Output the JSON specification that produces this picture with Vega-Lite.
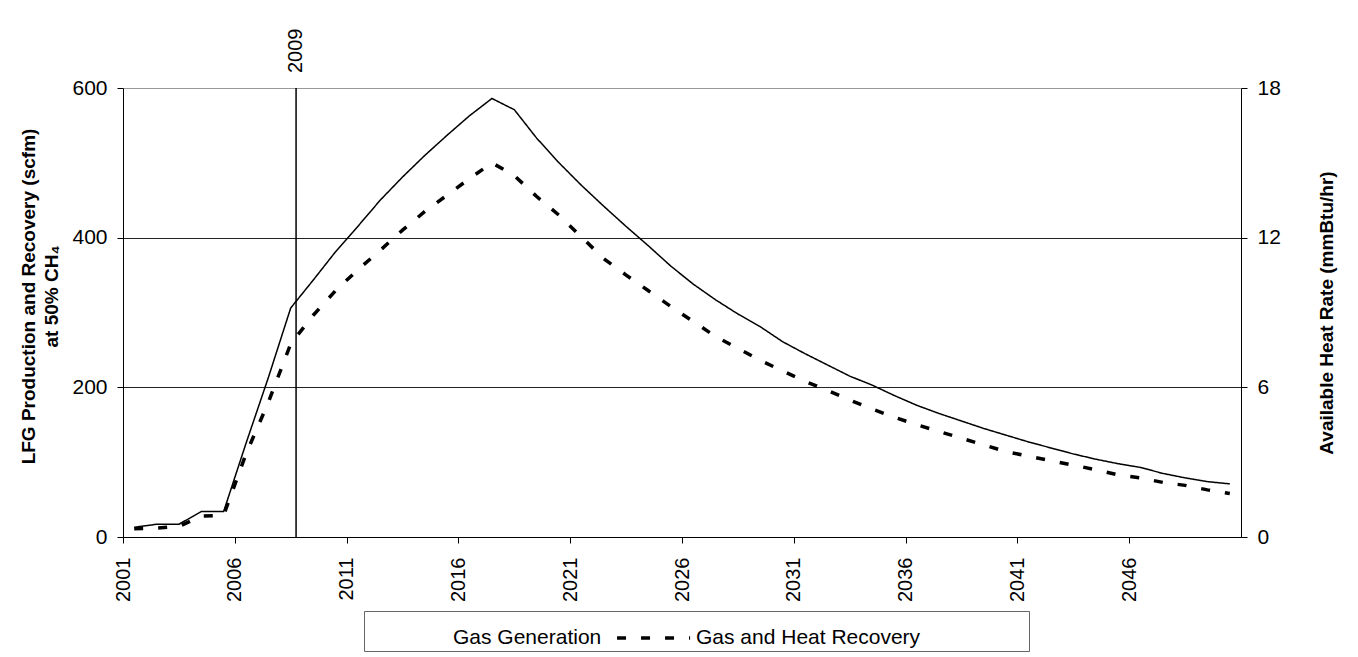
{
  "$schema": "https://vega.github.io/schema/vega-lite/v6.json",
  "width": 1118,
  "height": 449,
  "autosize": {"type": "none"},
  "padding": {"left": 123, "top": 88, "right": 117, "bottom": 120},
  "background": "white",
  "config": {
    "font": "Liberation Sans",
    "view": {"stroke": null},
    "axis": {
      "labelFont": "Liberation Sans",
      "labelFontSize": 21,
      "labelColor": "black",
      "titleFont": "Liberation Sans",
      "titleFontSize": 19,
      "titleFontWeight": "bold",
      "titleColor": "black",
      "domainColor": "black",
      "domainWidth": 1,
      "tickColor": "black",
      "tickSize": 6,
      "labelPadding": 10
    }
  },
  "datasets": {
    "series": [
      {"year": 2001, "series": "Gas Generation", "value": 13},
      {"year": 2002, "series": "Gas Generation", "value": 17},
      {"year": 2003, "series": "Gas Generation", "value": 17},
      {"year": 2004, "series": "Gas Generation", "value": 34},
      {"year": 2005, "series": "Gas Generation", "value": 34},
      {"year": 2006, "series": "Gas Generation", "value": 125},
      {"year": 2007, "series": "Gas Generation", "value": 213},
      {"year": 2008, "series": "Gas Generation", "value": 306},
      {"year": 2009, "series": "Gas Generation", "value": 343},
      {"year": 2010, "series": "Gas Generation", "value": 381},
      {"year": 2011, "series": "Gas Generation", "value": 415},
      {"year": 2012, "series": "Gas Generation", "value": 450},
      {"year": 2013, "series": "Gas Generation", "value": 481},
      {"year": 2014, "series": "Gas Generation", "value": 510},
      {"year": 2015, "series": "Gas Generation", "value": 537},
      {"year": 2016, "series": "Gas Generation", "value": 563},
      {"year": 2017, "series": "Gas Generation", "value": 586},
      {"year": 2018, "series": "Gas Generation", "value": 571},
      {"year": 2019, "series": "Gas Generation", "value": 533},
      {"year": 2020, "series": "Gas Generation", "value": 500},
      {"year": 2021, "series": "Gas Generation", "value": 470},
      {"year": 2022, "series": "Gas Generation", "value": 442},
      {"year": 2023, "series": "Gas Generation", "value": 415},
      {"year": 2024, "series": "Gas Generation", "value": 389},
      {"year": 2025, "series": "Gas Generation", "value": 362},
      {"year": 2026, "series": "Gas Generation", "value": 338},
      {"year": 2027, "series": "Gas Generation", "value": 317},
      {"year": 2028, "series": "Gas Generation", "value": 298},
      {"year": 2029, "series": "Gas Generation", "value": 281},
      {"year": 2030, "series": "Gas Generation", "value": 261},
      {"year": 2031, "series": "Gas Generation", "value": 245},
      {"year": 2032, "series": "Gas Generation", "value": 230},
      {"year": 2033, "series": "Gas Generation", "value": 215},
      {"year": 2034, "series": "Gas Generation", "value": 203},
      {"year": 2035, "series": "Gas Generation", "value": 189},
      {"year": 2036, "series": "Gas Generation", "value": 176},
      {"year": 2037, "series": "Gas Generation", "value": 165},
      {"year": 2038, "series": "Gas Generation", "value": 155},
      {"year": 2039, "series": "Gas Generation", "value": 145},
      {"year": 2040, "series": "Gas Generation", "value": 136},
      {"year": 2041, "series": "Gas Generation", "value": 127},
      {"year": 2042, "series": "Gas Generation", "value": 119},
      {"year": 2043, "series": "Gas Generation", "value": 111},
      {"year": 2044, "series": "Gas Generation", "value": 104},
      {"year": 2045, "series": "Gas Generation", "value": 98},
      {"year": 2046, "series": "Gas Generation", "value": 93},
      {"year": 2047, "series": "Gas Generation", "value": 85},
      {"year": 2048, "series": "Gas Generation", "value": 79},
      {"year": 2049, "series": "Gas Generation", "value": 74},
      {"year": 2050, "series": "Gas Generation", "value": 71},
      {"year": 2001, "series": "Gas and Heat Recovery", "value": 11},
      {"year": 2002, "series": "Gas and Heat Recovery", "value": 12},
      {"year": 2003, "series": "Gas and Heat Recovery", "value": 14},
      {"year": 2004, "series": "Gas and Heat Recovery", "value": 28},
      {"year": 2005, "series": "Gas and Heat Recovery", "value": 29},
      {"year": 2006, "series": "Gas and Heat Recovery", "value": 111},
      {"year": 2007, "series": "Gas and Heat Recovery", "value": 180},
      {"year": 2008, "series": "Gas and Heat Recovery", "value": 258},
      {"year": 2009, "series": "Gas and Heat Recovery", "value": 296},
      {"year": 2010, "series": "Gas and Heat Recovery", "value": 329},
      {"year": 2011, "series": "Gas and Heat Recovery", "value": 357},
      {"year": 2012, "series": "Gas and Heat Recovery", "value": 383},
      {"year": 2013, "series": "Gas and Heat Recovery", "value": 410},
      {"year": 2014, "series": "Gas and Heat Recovery", "value": 435},
      {"year": 2015, "series": "Gas and Heat Recovery", "value": 457},
      {"year": 2016, "series": "Gas and Heat Recovery", "value": 479},
      {"year": 2017, "series": "Gas and Heat Recovery", "value": 500},
      {"year": 2018, "series": "Gas and Heat Recovery", "value": 483},
      {"year": 2019, "series": "Gas and Heat Recovery", "value": 455},
      {"year": 2020, "series": "Gas and Heat Recovery", "value": 430},
      {"year": 2021, "series": "Gas and Heat Recovery", "value": 401},
      {"year": 2022, "series": "Gas and Heat Recovery", "value": 372},
      {"year": 2023, "series": "Gas and Heat Recovery", "value": 350},
      {"year": 2024, "series": "Gas and Heat Recovery", "value": 329},
      {"year": 2025, "series": "Gas and Heat Recovery", "value": 308},
      {"year": 2026, "series": "Gas and Heat Recovery", "value": 288},
      {"year": 2027, "series": "Gas and Heat Recovery", "value": 268},
      {"year": 2028, "series": "Gas and Heat Recovery", "value": 252},
      {"year": 2029, "series": "Gas and Heat Recovery", "value": 236},
      {"year": 2030, "series": "Gas and Heat Recovery", "value": 222},
      {"year": 2031, "series": "Gas and Heat Recovery", "value": 208},
      {"year": 2032, "series": "Gas and Heat Recovery", "value": 196},
      {"year": 2033, "series": "Gas and Heat Recovery", "value": 183},
      {"year": 2034, "series": "Gas and Heat Recovery", "value": 171},
      {"year": 2035, "series": "Gas and Heat Recovery", "value": 160},
      {"year": 2036, "series": "Gas and Heat Recovery", "value": 150},
      {"year": 2037, "series": "Gas and Heat Recovery", "value": 141},
      {"year": 2038, "series": "Gas and Heat Recovery", "value": 132},
      {"year": 2039, "series": "Gas and Heat Recovery", "value": 123},
      {"year": 2040, "series": "Gas and Heat Recovery", "value": 114},
      {"year": 2041, "series": "Gas and Heat Recovery", "value": 108},
      {"year": 2042, "series": "Gas and Heat Recovery", "value": 102},
      {"year": 2043, "series": "Gas and Heat Recovery", "value": 96},
      {"year": 2044, "series": "Gas and Heat Recovery", "value": 90},
      {"year": 2045, "series": "Gas and Heat Recovery", "value": 83},
      {"year": 2046, "series": "Gas and Heat Recovery", "value": 79},
      {"year": 2047, "series": "Gas and Heat Recovery", "value": 73},
      {"year": 2048, "series": "Gas and Heat Recovery", "value": 69},
      {"year": 2049, "series": "Gas and Heat Recovery", "value": 63},
      {"year": 2050, "series": "Gas and Heat Recovery", "value": 58}
    ],
    "marker": [{"year": 2008.24, "label": "2009", "value": 600}],
    "right": [{"heat": 0}]
  },
  "layer": [
    {
      "data": {"name": "series"},
      "mark": {"type": "line", "color": "black", "strokeCap": "butt"},
      "encoding": {
        "x": {
          "field": "year",
          "type": "quantitative",
          "scale": {"domain": [2000.5, 2050.5], "nice": false, "zero": false},
          "axis": {
            "values": [2000.5, 2005.5, 2010.5, 2015.5, 2020.5, 2025.5, 2030.5, 2035.5, 2040.5, 2045.5],
            "labelExpr": "format(datum.value + 0.5, 'd')",
            "labelAngle": -90,
            "labelFontSize": 20,
            "labelPadding": 14,
            "grid": false,
            "title": null
          }
        },
        "y": {
          "field": "value",
          "type": "quantitative",
          "scale": {"domain": [0, 600], "nice": false},
          "axis": {
            "values": [0, 200, 400, 600],
            "grid": true,
            "gridColor": {"condition": {"test": "datum.value == 600", "value": "#999999"}, "value": "#222222"},
            "gridWidth": 1,
            "title": ["LFG Production and Recovery (scfm)", "at 50% CH₄"],
            "titleLineHeight": 23,
            "titlePadding": 10,
            "titleY": 208
          }
        },
        "strokeDash": {
          "field": "series",
          "type": "nominal",
          "scale": {"domain": ["Gas Generation", "Gas and Heat Recovery"], "range": [[1, 0], [9, 15]]},
          "legend": {
            "orient": "none",
            "legendX": 241,
            "legendY": 523,
            "direction": "horizontal",
            "title": null,
            "strokeColor": "#666666",
            "fillColor": "white",
            "padding": 3,
            "symbolType": "M-0.68,0H2.64",
            "symbolSize": 1936,
            "symbolStrokeColor": "black",
            "symbolStrokeWidth": 3.5,
            "labelOffset": 40,
            "columnPadding": 6,
            "labelFont": "Liberation Sans",
            "labelFontSize": 21,
            "labelColor": "black",
            "labelLimit": 600,
            "labelExpr": "datum.label == 'Gas and Heat Recovery' ? datum.label + '\u2800\u2800\u2800\u2800\u2800\u2800\u2800' : datum.label",
            "encode": {
              "symbols": {
                "update": {
                  "opacity": {"signal": "datum.value == 'Gas Generation' ? 0 : 1"},
                  "strokeDash": {"value": [12, 12]},
                  "fill": {"value": "transparent"}
                }
              }
            }
          }
        },
        "strokeWidth": {
          "field": "series",
          "type": "nominal",
          "scale": {"domain": ["Gas Generation", "Gas and Heat Recovery"], "range": [1.5, 3.5]},
          "legend": null
        }
      }
    },
    {
      "data": {"name": "marker"},
      "mark": {"type": "rule", "color": "black", "strokeWidth": 1.5},
      "encoding": {
        "x": {"field": "year", "type": "quantitative"}
      }
    },
    {
      "data": {"name": "marker"},
      "mark": {"type": "text", "angle": 270, "align": "left", "baseline": "middle", "dx": 15, "fontSize": 20, "font": "Liberation Sans", "color": "black"},
      "encoding": {
        "x": {"field": "year", "type": "quantitative"},
        "y": {"field": "value", "type": "quantitative", "scale": {"domain": [0, 600], "nice": false}, "axis": null},
        "text": {"field": "label"}
      }
    },
    {
      "data": {"name": "right"},
      "mark": {"type": "point", "opacity": 0},
      "encoding": {
        "y": {
          "field": "heat",
          "type": "quantitative",
          "scale": {"domain": [0, 18], "nice": false},
          "axis": {
            "orient": "right",
            "values": [0, 6, 12, 18],
            "grid": false,
            "title": "Available Heat Rate (mmBtu/hr)",
            "titleAngle": 270,
            "titlePadding": 56
          }
        }
      }
    }
  ],
  "resolve": {"scale": {"y": "independent"}}
}
